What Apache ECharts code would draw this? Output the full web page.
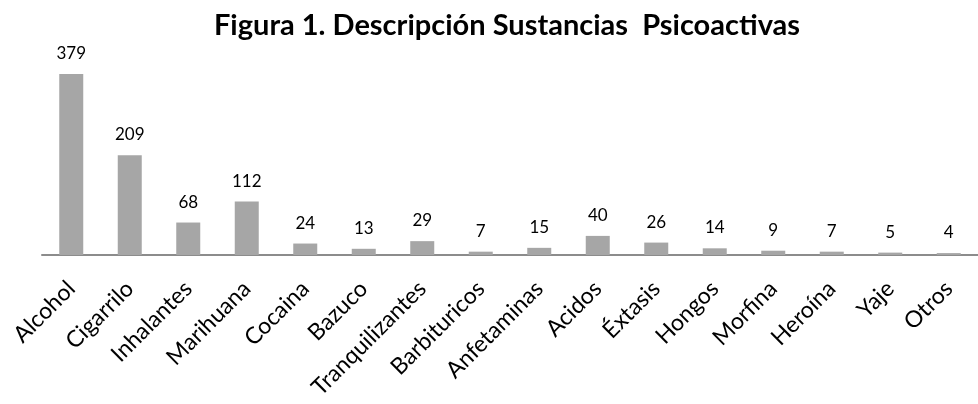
<!DOCTYPE html>
<html>
<head>
<meta charset="utf-8">
<script src="https://cdn.jsdelivr.net/npm/echarts@6/dist/echarts.min.js"></script>
<style>
  html, body { margin: 0; padding: 0; background: #fff; }
  #main { width: 978px; height: 404px; }
</style>
</head>
<body>
<div id="main"></div>
<script>
const categorias = ['Alcohol', 'Cigarrilo', 'Inhalantes', 'Marihuana', 'Cocaina', 'Bazuco',
  'Tranquilizantes', 'Barbituricos', 'Anfetaminas', 'Acidos', 'Éxtasis', 'Hongos',
  'Morfina', 'Heroína', 'Yaje', 'Otros'];
const valores = [379, 209, 68, 112, 24, 13, 29, 7, 15, 40, 26, 14, 9, 7, 5, 4];

let myChart = echarts.init(document.getElementById('main'));
let option = {
  animation: false,
  title: {
    text: 'Figura 1. Descripción Sustancias  Psicoactivas',
    left: 502,
    textAlign: 'center',
    top: 6,
    textStyle: {
      fontFamily: 'Lato',
      fontWeight: 'bold',
      fontSize: 29,
      color: '#000'
    }
  },
  grid: {
    left: 42,
    width: 946,
    top: 64,
    bottom: 149
  },
  xAxis: {
    type: 'category',
    data: categorias,
    axisLine: { lineStyle: { color: '#8c8c8c', width: 2 } },
    axisTick: { show: false },
    axisLabel: {
      rotate: 45,
      interval: 0,
      margin: 30,
      fontFamily: 'Lato',
      fontSize: 23,
      color: '#000'
    }
  },
  yAxis: {
    type: 'value',
    min: 0,
    max: 400,
    show: false,
    splitLine: { show: false }
  },
  series: [
    {
      type: 'bar',
      data: valores,
      barWidth: 24,
      itemStyle: { color: '#a6a6a6' },
      label: {
        show: true,
        position: 'top',
        distance: 12,
        fontFamily: 'Lato',
        fontSize: 17,
        color: '#000'
      }
    }
  ]
};
myChart.setOption(option);
</script>
</body>
</html>
